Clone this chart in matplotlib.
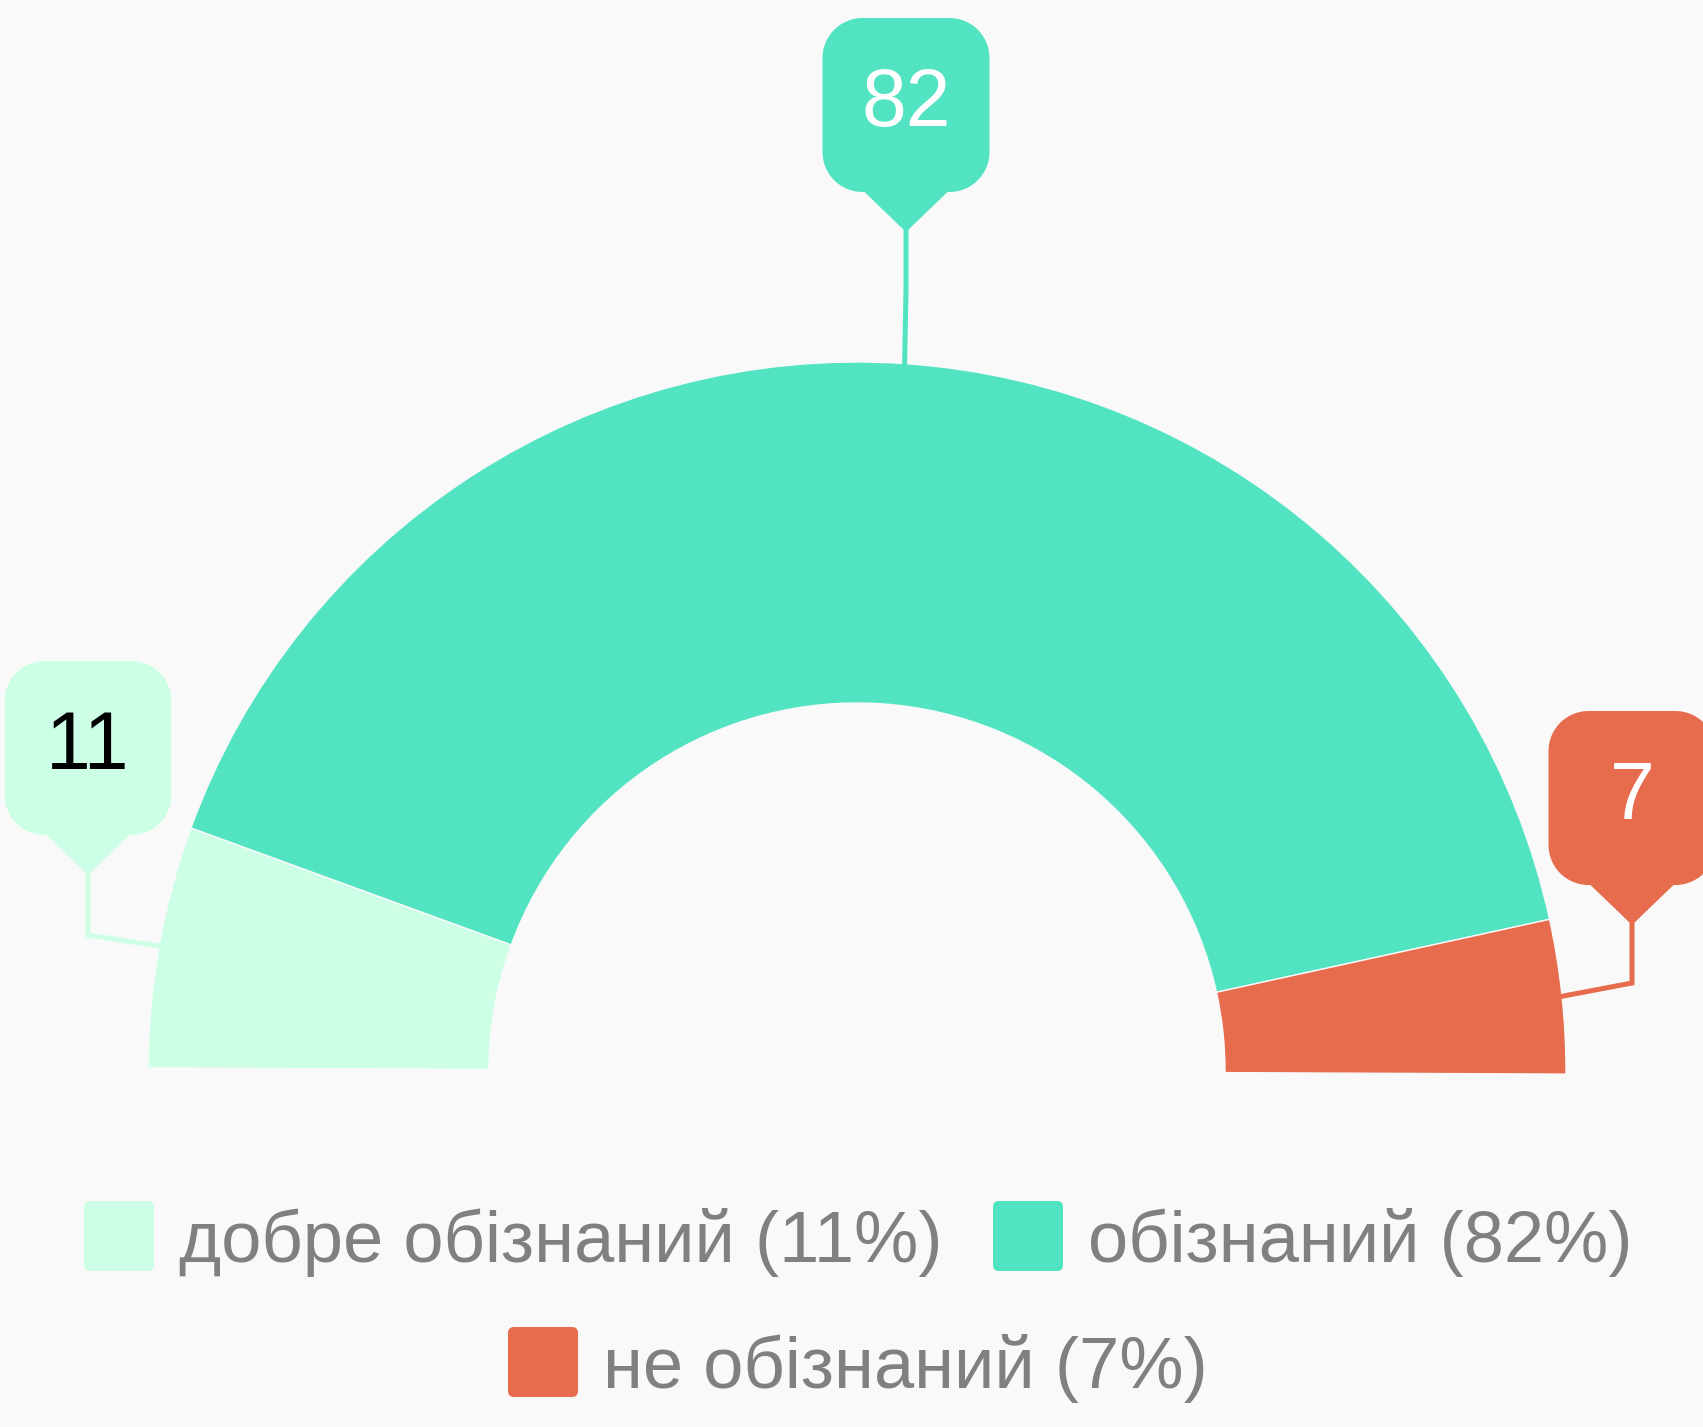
import matplotlib
matplotlib.use("Agg")
import matplotlib.pyplot as plt
from matplotlib.patches import FancyBboxPatch, Polygon
import numpy as np

# ---- data ----
categories = ["добре обізнаний", "обізнаний", "не обізнаний"]
values = [11, 82, 7]
colors = ["#CCFFE6", "#52E3C2", "#E76C4D"]
label_colors = ["#000000", "#FFFFFF", "#FFFFFF"]

W, H = 1703, 1427
BG = "#F9F9F9"
FONT = "Liberation Sans"

fig = plt.figure(figsize=(W / 100, H / 100), dpi=100, facecolor=BG)
ax = fig.add_axes([0, 0, 1, 1])
ax.set_facecolor(BG)


def py(y):
    return H - y


cx, cy = 857, 1071
R_out, R_in = 709, 368
start = 179.75

wedges, _ = ax.pie(values + [sum(values)], colors=colors + [BG], startangle=start,
                   counterclock=False, radius=R_out, center=(cx, py(cy)),
                   wedgeprops=dict(width=R_out - R_in, edgecolor=BG, linewidth=1.0))
wedges[-1].set_visible(False)

ax.set_xlim(0, W)
ax.set_ylim(0, H)
ax.set_aspect("equal")
ax.axis("off")


def callout_shape(tx, ty, bw, bh, th, thw, r):
    """Outline (in pixel coords, y down) of rounded box with pointer below, tip at (tx, ty)."""
    bottom = ty - th
    top = bottom - bh
    left, right = tx - bw / 2, tx + bw / 2
    pts = []

    def arc(ccx, ccy, a0, a1):
        for a in np.linspace(np.deg2rad(a0), np.deg2rad(a1), 20):
            pts.append((ccx + r * np.cos(a), ccy + r * np.sin(a)))

    # start at bottom-right of pointer, go counterclockwise on screen (y down)
    pts.append((tx, ty))
    pts.append((tx + thw, bottom))
    arc(right - r, bottom - r, 90, 0)
    arc(right - r, top + r, 0, -90)
    arc(left + r, top + r, -90, -180)
    arc(left + r, bottom - r, -180, -270)
    pts.append((tx - thw, bottom))
    return [(x, py(y)) for x, y in pts]


# ---- callouts ----
total = sum(values)
tips = [(88, 875), (906, 232), (1632, 925)]
bends = [(88, 935), (906, 290), (1632, 983)]
box_w, box_h, tri_h, tri_hw, rad = 167, 174, 40, 41.5, 40
cum = 0
for i, v in enumerate(values):
    mid = np.deg2rad(start - (cum + v / 2) / total * 180)
    cum += v
    ax_x = cx + R_out * np.cos(mid)
    ax_y = py(cy) + R_out * np.sin(mid)
    tx, ty = tips[i]
    bx, by = bends[i]
    ax.plot([ax_x, bx, tx], [ax_y, py(by), py(ty)], color=colors[i], lw=3.6,
            solid_joinstyle="miter", zorder=3)
    ax.add_patch(Polygon(callout_shape(tx, ty, box_w, box_h, tri_h, tri_hw, rad),
                         closed=True, facecolor=colors[i], edgecolor="none", zorder=4))
    ax.text(tx, py(ty - tri_h - box_h / 2), str(v), ha="center", va="center",
            fontsize=58, family=FONT, color=label_colors[i], zorder=5)

# ---- legend ----
leg_pos = [(84, 1236), (993, 1236), (508, 1362)]
for i, (cat, v) in enumerate(zip(categories, values)):
    lx, ly = leg_pos[i]
    ax.add_patch(FancyBboxPatch((lx, py(ly + 35)), 70, 70,
                                boxstyle="round,pad=0,rounding_size=6",
                                facecolor=colors[i], edgecolor="none"))
    ax.text(lx + 95, py(ly + 26), f"{cat} ({v}%)", ha="left", va="baseline",
            fontsize=52, family=FONT, color="#808080")

fig.savefig("out.png", dpi=100, facecolor=BG)
